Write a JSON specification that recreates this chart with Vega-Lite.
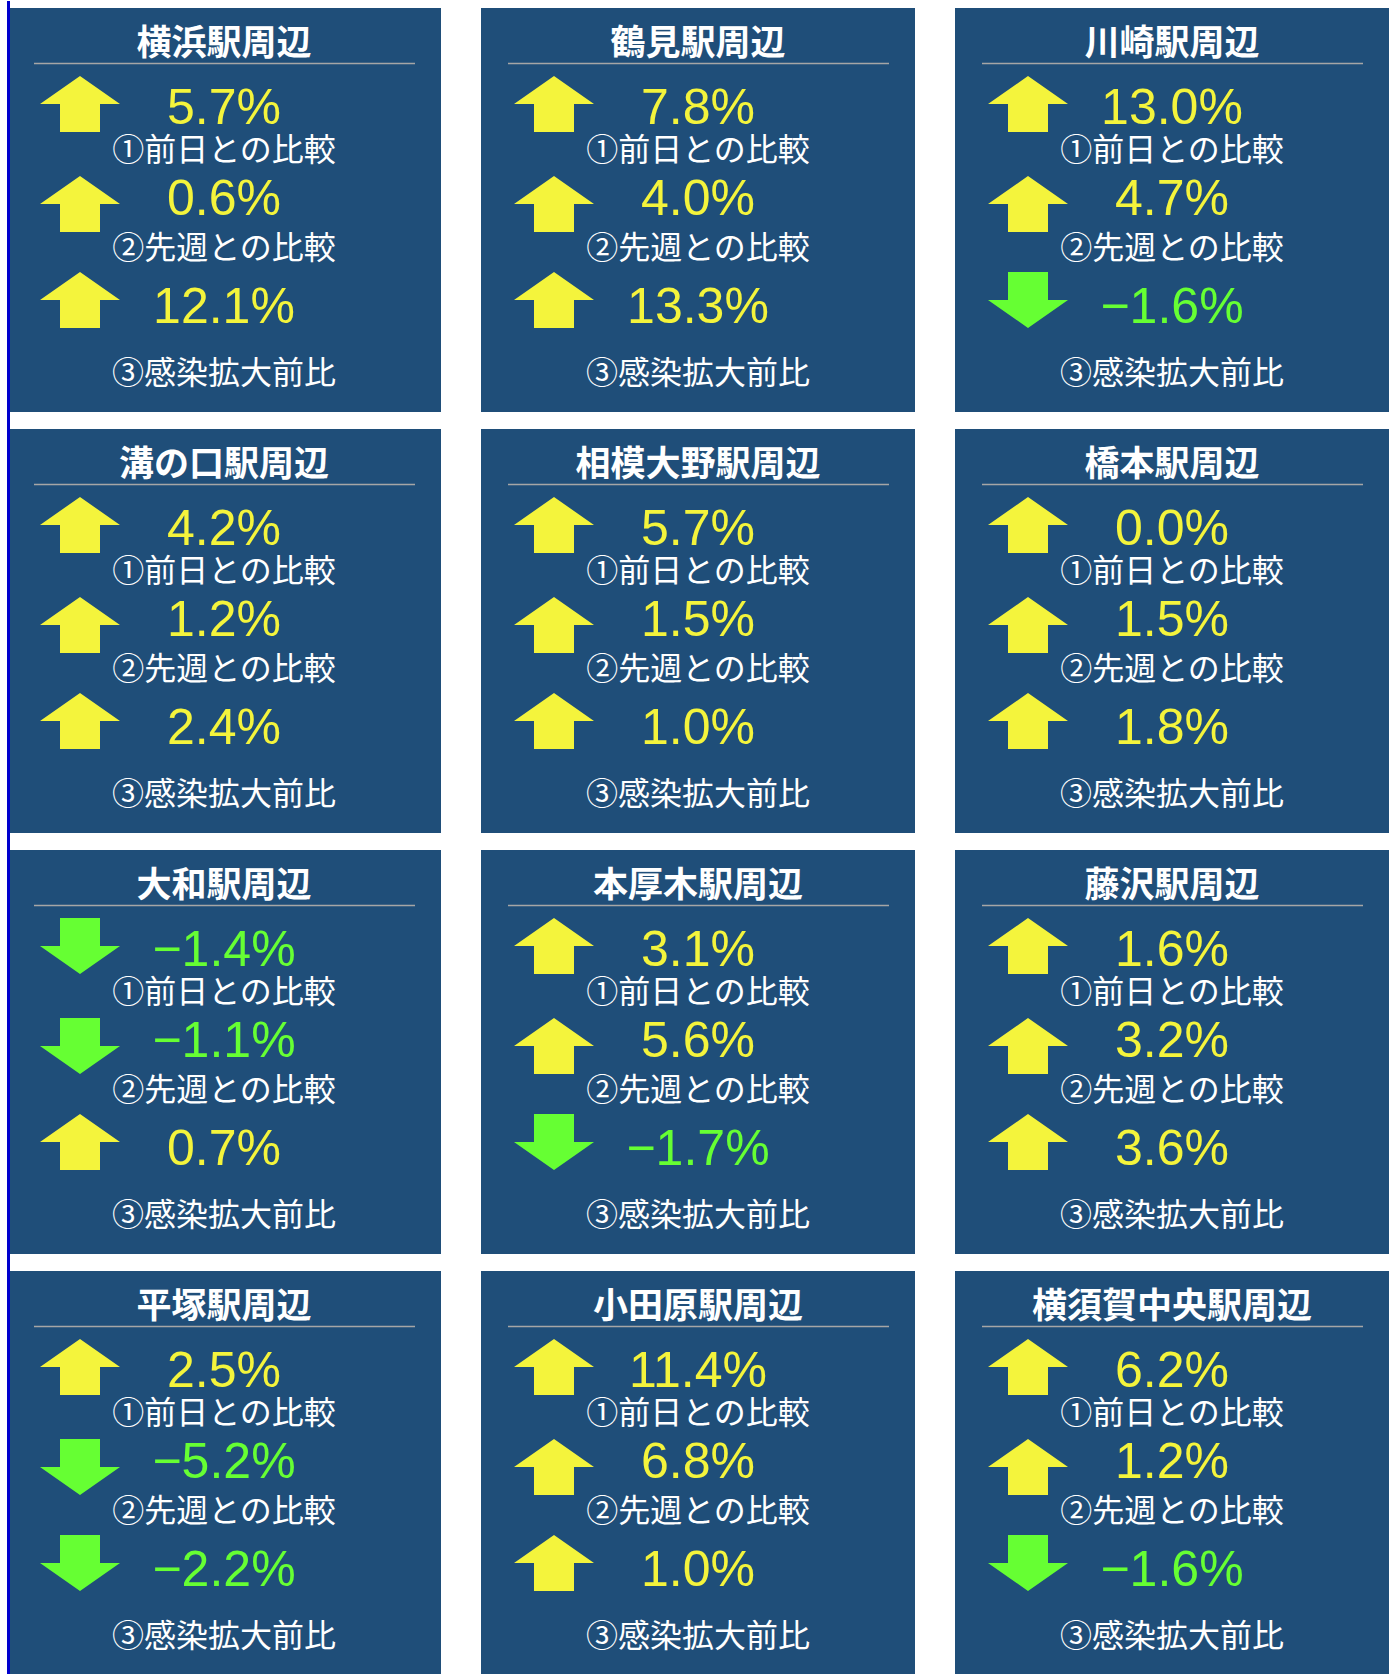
{
  "$schema": "https://vega.github.io/schema/vega-lite/v6.json",
  "padding": {"left": 7, "top": 0, "right": 0, "bottom": 0},
  "background": "#FFFFFF",
  "bounds": "flush",
  "data": {"values": [
    {"r":0,"c":0,"station":"横浜駅周辺","order":1,"label":"①前日との比較","value":0.057},
    {"r":0,"c":0,"station":"横浜駅周辺","order":2,"label":"②先週との比較","value":0.006},
    {"r":0,"c":0,"station":"横浜駅周辺","order":3,"label":"③感染拡大前比","value":0.121},
    {"r":0,"c":1,"station":"鶴見駅周辺","order":1,"label":"①前日との比較","value":0.078},
    {"r":0,"c":1,"station":"鶴見駅周辺","order":2,"label":"②先週との比較","value":0.040},
    {"r":0,"c":1,"station":"鶴見駅周辺","order":3,"label":"③感染拡大前比","value":0.133},
    {"r":0,"c":2,"station":"川崎駅周辺","order":1,"label":"①前日との比較","value":0.130},
    {"r":0,"c":2,"station":"川崎駅周辺","order":2,"label":"②先週との比較","value":0.047},
    {"r":0,"c":2,"station":"川崎駅周辺","order":3,"label":"③感染拡大前比","value":-0.016},
    {"r":1,"c":0,"station":"溝の口駅周辺","order":1,"label":"①前日との比較","value":0.042},
    {"r":1,"c":0,"station":"溝の口駅周辺","order":2,"label":"②先週との比較","value":0.012},
    {"r":1,"c":0,"station":"溝の口駅周辺","order":3,"label":"③感染拡大前比","value":0.024},
    {"r":1,"c":1,"station":"相模大野駅周辺","order":1,"label":"①前日との比較","value":0.057},
    {"r":1,"c":1,"station":"相模大野駅周辺","order":2,"label":"②先週との比較","value":0.015},
    {"r":1,"c":1,"station":"相模大野駅周辺","order":3,"label":"③感染拡大前比","value":0.010},
    {"r":1,"c":2,"station":"橋本駅周辺","order":1,"label":"①前日との比較","value":0.000},
    {"r":1,"c":2,"station":"橋本駅周辺","order":2,"label":"②先週との比較","value":0.015},
    {"r":1,"c":2,"station":"橋本駅周辺","order":3,"label":"③感染拡大前比","value":0.018},
    {"r":2,"c":0,"station":"大和駅周辺","order":1,"label":"①前日との比較","value":-0.014},
    {"r":2,"c":0,"station":"大和駅周辺","order":2,"label":"②先週との比較","value":-0.011},
    {"r":2,"c":0,"station":"大和駅周辺","order":3,"label":"③感染拡大前比","value":0.007},
    {"r":2,"c":1,"station":"本厚木駅周辺","order":1,"label":"①前日との比較","value":0.031},
    {"r":2,"c":1,"station":"本厚木駅周辺","order":2,"label":"②先週との比較","value":0.056},
    {"r":2,"c":1,"station":"本厚木駅周辺","order":3,"label":"③感染拡大前比","value":-0.017},
    {"r":2,"c":2,"station":"藤沢駅周辺","order":1,"label":"①前日との比較","value":0.016},
    {"r":2,"c":2,"station":"藤沢駅周辺","order":2,"label":"②先週との比較","value":0.032},
    {"r":2,"c":2,"station":"藤沢駅周辺","order":3,"label":"③感染拡大前比","value":0.036},
    {"r":3,"c":0,"station":"平塚駅周辺","order":1,"label":"①前日との比較","value":0.025},
    {"r":3,"c":0,"station":"平塚駅周辺","order":2,"label":"②先週との比較","value":-0.052},
    {"r":3,"c":0,"station":"平塚駅周辺","order":3,"label":"③感染拡大前比","value":-0.022},
    {"r":3,"c":1,"station":"小田原駅周辺","order":1,"label":"①前日との比較","value":0.114},
    {"r":3,"c":1,"station":"小田原駅周辺","order":2,"label":"②先週との比較","value":0.068},
    {"r":3,"c":1,"station":"小田原駅周辺","order":3,"label":"③感染拡大前比","value":0.010},
    {"r":3,"c":2,"station":"横須賀中央駅周辺","order":1,"label":"①前日との比較","value":0.062},
    {"r":3,"c":2,"station":"横須賀中央駅周辺","order":2,"label":"②先週との比較","value":0.012},
    {"r":3,"c":2,"station":"横須賀中央駅周辺","order":3,"label":"③感染拡大前比","value":-0.016}
  ]},
  "facet": {
    "row": {"field": "r", "type": "ordinal", "title": null, "header": null},
    "column": {"field": "c", "type": "ordinal", "title": null, "header": null}
  },
  "spacing": {"row": 17, "column": 40},
  "spec": {
    "width": 434,
    "height": 404,
    "resolve": {"scale": {"y": "independent"}},
    "layer": [
      {
        "transform": [{"filter": "datum.order == 1 && datum.c == 0"}],
        "mark": {"type": "rect", "fill": "#0000CD", "strokeWidth": 0},
        "encoding": {
          "x": {"datum": -217, "type": "quantitative", "scale": {"domain": [-217, 217], "nice": false, "zero": false}, "axis": null},
          "x2": {"datum": -214},
          "y": {"datum": -7, "type": "quantitative", "scale": {"domain": [404, 0], "nice": false, "zero": false}, "axis": null},
          "y2": {"datum": 404}
        }
      },
      {
        "transform": [{"filter": "datum.order == 1 && datum.c == 0 && datum.r < 3"}],
        "mark": {"type": "rect", "fill": "#0000CD", "strokeWidth": 0},
        "encoding": {
          "x": {"datum": -217, "type": "quantitative", "scale": {"domain": [-217, 217], "nice": false, "zero": false}, "axis": null},
          "x2": {"datum": -214},
          "y": {"datum": 404, "type": "quantitative", "scale": {"domain": [404, 0], "nice": false, "zero": false}, "axis": null},
          "y2": {"datum": 421}
        }
      },
      {
        "transform": [{"filter": "datum.order == 1"}],
        "mark": {"type": "rule", "stroke": "#A6A6A6", "strokeWidth": 1.5},
        "encoding": {
          "x": {"datum": -190, "type": "quantitative", "scale": {"domain": [-217, 217], "nice": false, "zero": false}, "axis": null},
          "x2": {"datum": 191},
          "y": {"datum": 55.5, "type": "quantitative", "scale": {"domain": [404, 0], "nice": false, "zero": false}, "axis": null}
        }
      },
      {
        "transform": [{"filter": "datum.order == 1"}],
        "mark": {"type": "text", "font": "Noto Sans CJK JP", "fontWeight": "bold", "fontSize": 35, "color": "#FFFFFF", "align": "center", "baseline": "middle"},
        "encoding": {
          "y": {"datum": 36, "type": "quantitative", "scale": {"domain": [404, 0], "nice": false, "zero": false}, "axis": null},
          "text": {"field": "station", "type": "nominal"}
        }
      },
      {
        "mark": {"type": "point", "filled": true, "size": 6400, "strokeWidth": 0, "opacity": 1},
        "encoding": {
          "x": {"datum": -144, "type": "quantitative", "scale": {"domain": [-217, 217], "nice": false, "zero": false}, "axis": null},
          "y": {"field": "order", "type": "quantitative", "scale": {"domain": [1, 2, 3], "range": [96, 196, 292], "nice": false, "zero": false}, "axis": null},
          "shape": {"condition": {"test": "datum.value < 0", "value": "M0,0.7L1,0L0.5,0L0.5,-0.7L-0.5,-0.7L-0.5,0L-1,0Z"}, "value": "M0,-0.7L1,0L0.5,0L0.5,0.7L-0.5,0.7L-0.5,0L-1,0Z"},
          "color": {"condition": {"test": "datum.value < 0", "value": "#66FF33"}, "value": "#F4F43C"}
        }
      },
      {
        "mark": {"type": "text", "font": "Liberation Sans", "fontSize": 50, "align": "center", "baseline": "alphabetic"},
        "encoding": {
          "y": {"field": "order", "type": "quantitative", "scale": {"domain": [1, 2, 3], "range": [116, 207, 315], "nice": false, "zero": false}, "axis": null},
          "text": {"field": "value", "type": "quantitative", "format": ".1%"},
          "color": {"condition": {"test": "datum.value < 0", "value": "#66FF33"}, "value": "#F4F43C"}
        }
      },
      {
        "mark": {"type": "text", "font": "Noto Sans CJK JP", "fontSize": 32, "color": "#FFFFFF", "align": "center", "baseline": "middle"},
        "encoding": {
          "y": {"field": "order", "type": "quantitative", "scale": {"domain": [1, 2, 3], "range": [143, 241, 366], "nice": false, "zero": false}, "axis": null},
          "text": {"field": "label", "type": "nominal"}
        }
      }
    ]
  },
  "config": {
    "view": {"fill": "#1F4E79", "stroke": null}
  }
}
